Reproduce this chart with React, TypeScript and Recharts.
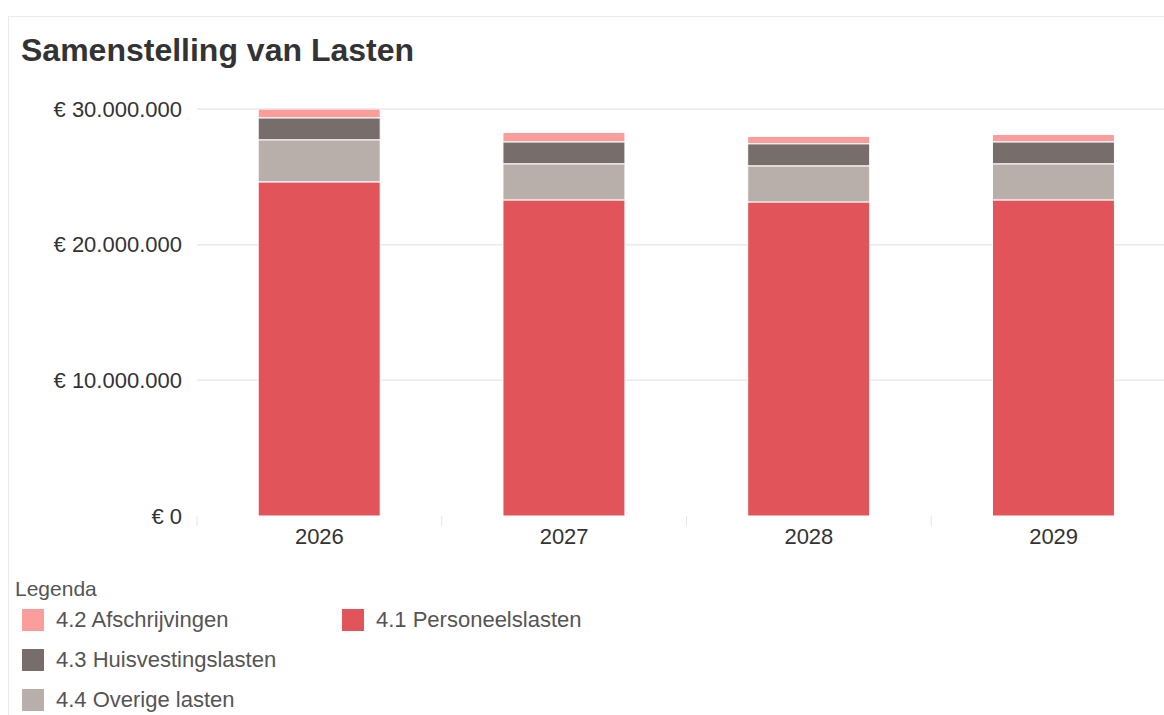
import { BarChart, Bar, XAxis, YAxis, CartesianGrid } from "recharts";

// Jaren en lasten per categorie (in euro's)
const years = ["2026", "2027", "2028", "2029"];
const personeelslasten = [24630000, 23300000, 23150000, 23300000];
const overigeLasten = [3100000, 2660000, 2660000, 2660000];
const huisvestingslasten = [1620000, 1620000, 1630000, 1620000];
const afschrijvingen = [700000, 690000, 540000, 540000];
const yTicks = [0, 10000000, 20000000, 30000000];

const COLORS = {
    personeel: "#e1555a",
    overige: "#b8afaa",
    huisvesting: "#776d6b",
    afschrijving: "#fa9d9b",
};

const FONT = '"Liberation Sans", Arial, Helvetica, sans-serif';

const data = years.map((year, i) => ({
    year,
    personeel: personeelslasten[i],
    overige: overigeLasten[i],
    huisvesting: huisvestingslasten[i],
    afschrijving: afschrijvingen[i],
}));

const formatEuro = (v: number) =>
    "€ " + String(Math.round(v)).replace(/\B(?=(\d{3})+(?!\d))/g, ".");

// Legenda: kolom 1 en kolom 2, zoals in het origineel
const legendItems = [
    { label: "4.2 Afschrijvingen", color: COLORS.afschrijving, col: 0, row: 0 },
    { label: "4.3 Huisvestingslasten", color: COLORS.huisvesting, col: 0, row: 1 },
    { label: "4.4 Overige lasten", color: COLORS.overige, col: 0, row: 2 },
    { label: "4.1 Personeelslasten", color: COLORS.personeel, col: 1, row: 0 },
];

const TICK_MARGIN = 12;

// jaartal + klein streepje op de grens tussen categorieën
// eslint-disable-next-line @typescript-eslint/no-explicit-any
const YearTick = (props: any) => {
    const { x, y, payload, index, visibleTicksCount, width } = props;
    const band = Number(width) / visibleTicksCount;
    const top = y - TICK_MARGIN;
    return (
        <g>
            <line
                x1={x - band / 2}
                x2={x - band / 2}
                y1={top}
                y2={top + 10}
                stroke="#e6e6e6"
            />
            {index === visibleTicksCount - 1 && (
                <line
                    x1={x + band / 2}
                    x2={x + band / 2}
                    y1={top}
                    y2={top + 10}
                    stroke="#e6e6e6"
                />
            )}
            <text
                x={x}
                y={y}
                dy="0.71em"
                textAnchor="middle"
                fill="#333"
                fontSize={22}
                fontFamily={FONT}
            >
                {payload.value}
            </text>
        </g>
    );
};

// rasterlijn, behalve op de nullijn
// eslint-disable-next-line @typescript-eslint/no-explicit-any
const GridLine = (props: any) => {
    const { x1, x2, y1, y2, index } = props;
    if (index === 0) return <g />;
    return (
        <line
            x1={x1}
            x2={x2}
            y1={y1}
            y2={y2}
            stroke="#e8eaec"
            strokeWidth={1.5}
        />
    );
};

export default function App() {
    return (
        <div
            style={{
                position: "fixed",
                top: 8,
                left: 8,
                width: 1156,
                height: 707,
                overflow: "hidden",
                background: "#fff",
                fontFamily: FONT,
            }}
        >
            {/* kaartrand */}
            <div
                style={{
                    position: "absolute",
                    top: 8,
                    left: 0,
                    width: 2000,
                    height: 2000,
                    borderTop: "1px solid #e8ecef",
                    borderLeft: "1px solid #e8ecef",
                }}
            />
            <div
                style={{
                    position: "absolute",
                    top: 27,
                    left: 13,
                    fontSize: 32,
                    lineHeight: "31px",
                    fontWeight: "bold",
                    color: "#333",
                    whiteSpace: "nowrap",
                }}
            >
                Samenstelling van Lasten
            </div>

            <div style={{ position: "absolute", top: 0, left: 0 }}>
                <BarChart
                    width={1200}
                    height={548}
                    data={data}
                    margin={{ top: 101, right: 32, left: 0, bottom: 0 }}
                    barCategoryGap="25%"
                >
                    <CartesianGrid vertical={false} horizontal={GridLine} />
                    <XAxis
                        dataKey="year"
                        axisLine={false}
                        tickLine={false}
                        tickSize={0}
                        tickMargin={TICK_MARGIN}
                        height={40}
                        interval={0}
                        tick={<YearTick />}
                    />
                    <YAxis
                        width={189}
                        domain={[0, 30000000]}
                        allowDataOverflow
                        ticks={yTicks}
                        axisLine={false}
                        tickLine={false}
                        tickSize={0}
                        tickMargin={15}
                        tickFormatter={formatEuro}
                        tick={{ fill: "#333", fontSize: 22, fontFamily: FONT }}
                    />
                    <Bar
                        dataKey="personeel"
                        stackId="a"
                        fill={COLORS.personeel}
                        stroke="#fff"
                        strokeWidth={1}
                        isAnimationActive={false}
                    />
                    <Bar
                        dataKey="overige"
                        stackId="a"
                        fill={COLORS.overige}
                        stroke="#fff"
                        strokeWidth={1}
                        isAnimationActive={false}
                    />
                    <Bar
                        dataKey="huisvesting"
                        stackId="a"
                        fill={COLORS.huisvesting}
                        stroke="#fff"
                        strokeWidth={1}
                        isAnimationActive={false}
                    />
                    <Bar
                        dataKey="afschrijving"
                        stackId="a"
                        fill={COLORS.afschrijving}
                        stroke="#fff"
                        strokeWidth={1}
                        isAnimationActive={false}
                    />
                </BarChart>
            </div>

            <div
                style={{
                    position: "absolute",
                    top: 570,
                    left: 7,
                    fontSize: 21,
                    lineHeight: "21px",
                    color: "#555",
                }}
            >
                Legenda
            </div>
            {legendItems.map((item) => (
                <div
                    key={item.label}
                    style={{
                        position: "absolute",
                        top: 601 + item.row * 40,
                        left: 14 + item.col * 320,
                        display: "flex",
                        alignItems: "center",
                        whiteSpace: "nowrap",
                    }}
                >
                    <div
                        style={{
                            width: 22,
                            height: 22,
                            background: item.color,
                            marginRight: 12,
                        }}
                    />
                    <span
                        style={{
                            fontSize: 22,
                            lineHeight: "22px",
                            color: "#555",
                        }}
                    >
                        {item.label}
                    </span>
                </div>
            ))}
        </div>
    );
}
